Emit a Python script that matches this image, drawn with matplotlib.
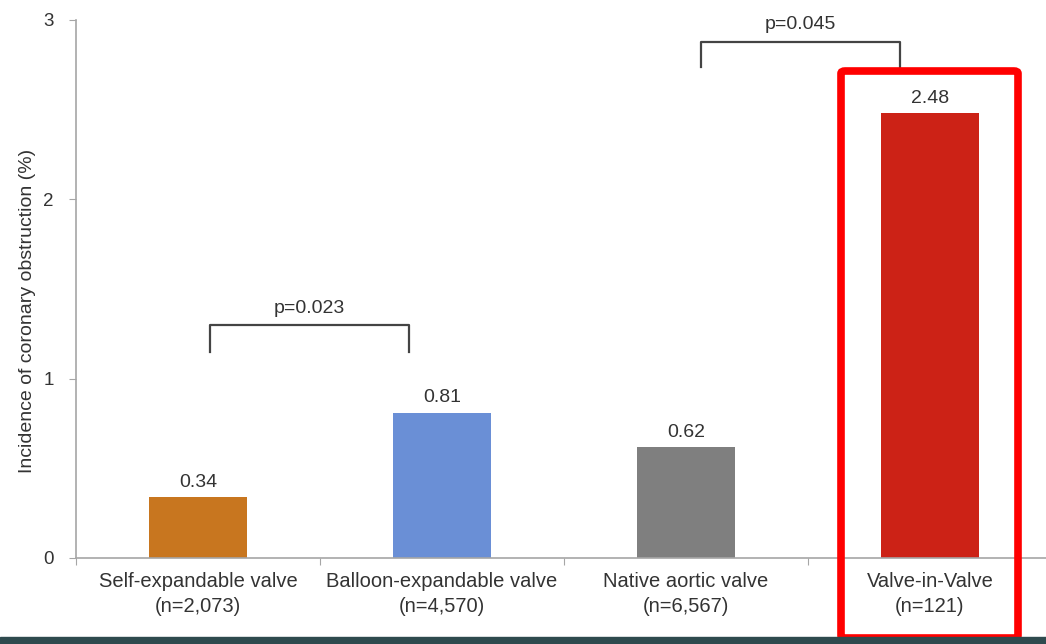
import matplotlib.pyplot as plt
from matplotlib.patches import FancyBboxPatch, Rectangle

plt.rcParams['font.family'] = ['Liberation Sans', 'DejaVu Sans']

categories = ['Self-expandable valve', 'Balloon-expandable valve',
              'Native aortic valve', 'Valve-in-Valve']
sample_sizes = ['n=2,073', 'n=4,570', 'n=6,567', 'n=121']
incidence = [0.34, 0.81, 0.62, 2.48]
bar_colors = ['#C8761F', '#6A8FD6', '#7F7F7F', '#CC2216']

# (left x, right x, bracket top, leg bottom, label)
comparisons = [
    (0.05, 0.865, 1.30, 1.15, 'p=0.023'),
    (2.06, 2.875, 2.88, 2.74, 'p=0.045'),
]

text_color = '#333333'
axis_color = '#A6A6A6'


def main():
    fig = plt.figure(figsize=(10.46, 6.44), dpi=100)
    ax = fig.add_axes([76 / 1046, 1 - 558 / 644, 976 / 1046, 538 / 644])

    x = range(len(categories))
    ax.bar(x, incidence, width=0.4, color=bar_colors, zorder=2)
    for xi, v in zip(x, incidence):
        ax.text(xi, v + 0.035, f'{v:.2f}', ha='center', va='bottom',
                fontsize=14, color=text_color)

    ax.set_xlim(-0.5, 3.5)
    ax.set_ylim(0, 3)
    ax.set_yticks([0, 1, 2, 3])
    ax.set_xticks([-0.5, 0.5, 1.5, 2.5, 3.5])
    ax.set_xticklabels([])
    ax.tick_params(axis='y', colors=axis_color, labelcolor=text_color,
                   labelsize=13.5, length=5, pad=11)
    ax.tick_params(axis='x', colors=axis_color, length=5)
    for xi, (c, n) in enumerate(zip(categories, sample_sizes)):
        ax.text(xi, -0.08, f'{c}\n({n})', ha='center', va='top',
                fontsize=14.5, color=text_color, linespacing=1.4,
                clip_on=False)

    for side in ('top', 'right'):
        ax.spines[side].set_visible(False)
    for side in ('left', 'bottom'):
        ax.spines[side].set_color(axis_color)
        ax.spines[side].set_linewidth(1.2)

    ax.set_ylabel('Incidence of coronary obstruction (%)', fontsize=14,
                  color=text_color)
    ax.yaxis.set_label_coords(-0.041, 0.46)

    for x0, x1, top, leg, label in comparisons:
        ax.plot([x0, x0, x1, x1], [leg, top, top, leg], color='#444444',
                lw=1.6, clip_on=False, zorder=3)
        ax.text((x0 + x1) / 2, top + 0.045, label, ha='center', va='bottom',
                fontsize=14, color=text_color, clip_on=False)

    # highlight box around the valve-in-valve group
    fig.patches.append(FancyBboxPatch(
        (841 / 1046, 1 - 638 / 644), 177 / 1046, 567 / 644,
        boxstyle='round,pad=0,rounding_size=0.004', transform=fig.transFigure,
        fill=False, edgecolor='#FF0000', linewidth=5.5, zorder=10))

    # dark strip along the bottom edge
    fig.patches.append(Rectangle((0, 0), 1, 7 / 644, transform=fig.transFigure,
                                 color='#2E4A4E', zorder=11))

    fig.savefig('out.png', dpi=100)


if __name__ == '__main__':
    main()
